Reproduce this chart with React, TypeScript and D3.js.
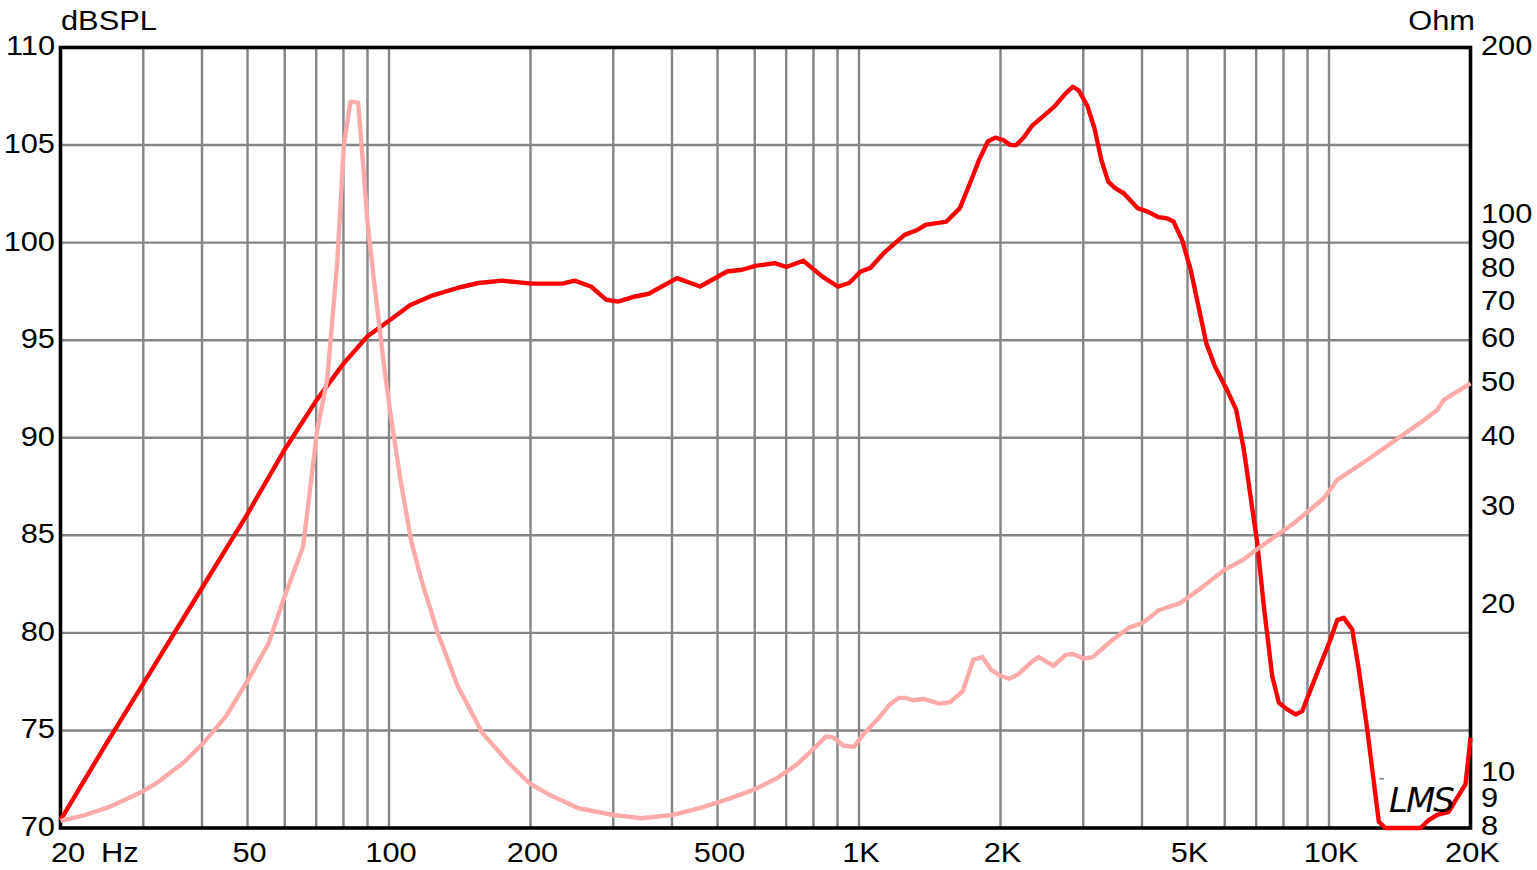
import React from "react";
import * as d3 from "d3";

// ---------- data ----------
const splFreq = [20, 25, 30, 40, 50, 60, 70, 80, 90, 100, 111, 124, 141, 155, 174, 201, 234, 248, 269, 290, 307, 334, 357, 410, 459, 524, 564, 602, 662, 700, 761, 836, 901, 953, 1008, 1056, 1128, 1250, 1322, 1385, 1535, 1639, 1734, 1801, 1880, 1950, 2028, 2096, 2158, 2243, 2332, 2460, 2610, 2746, 2854, 2936, 3062, 3169, 3278, 3390, 3507, 3658, 3913, 4114, 4328, 4514, 4667, 4868, 5078, 5480, 5716, 6112, 6344, 6589, 6808, 7036, 7266, 7572, 7821, 8149, 8488, 8770, 9438, 10072, 10410, 10750, 11204, 11572, 12060, 12764, 13188, 15654, 16306, 16987, 17978, 18736, 19518, 20000];
const splDb = [70.4, 74.3, 77.4, 82.3, 86.1, 89.4, 91.9, 93.8, 95.2, 96.0, 96.8, 97.3, 97.7, 97.93, 98.05, 97.9, 97.9, 98.05, 97.75, 97.07, 96.98, 97.24, 97.38, 98.18, 97.75, 98.52, 98.61, 98.81, 98.95, 98.75, 99.07, 98.26, 97.75, 97.93, 98.52, 98.69, 99.46, 100.4, 100.62, 100.91, 101.08, 101.77, 103.22, 104.24, 105.18, 105.38, 105.26, 105.01, 104.99, 105.4, 105.98, 106.46, 107.0, 107.62, 107.99, 107.79, 107.0, 105.86, 104.24, 103.13, 102.79, 102.53, 101.77, 101.59, 101.31, 101.25, 101.08, 100.14, 98.61, 94.85, 93.66, 92.29, 91.44, 89.39, 87.0, 84.61, 81.37, 77.78, 76.42, 76.08, 75.82, 75.99, 77.96, 79.66, 80.65, 80.77, 80.17, 78.13, 75.05, 70.32, 70.0, 70.0, 70.41, 70.67, 70.83, 71.56, 72.24, 74.63];

const impFreq = [20, 22.56, 25.43, 29.83, 32.31, 36.41, 40.26, 44.92, 50.13, 55.43, 59.41, 65.64, 67.63, 70.34, 73.86, 77.58, 80.13, 82.79, 85.98, 88.37, 89.87, 93.58, 97.46, 100.7, 105.8, 111.4, 117.1, 126.9, 140.2, 158.1, 180, 198.9, 219.8, 252.9, 300.6, 344.4, 400, 458.1, 528.4, 597.6, 669.4, 737, 804.5, 851, 885.9, 925.4, 975.2, 1027.5, 1102, 1161, 1213, 1256, 1301, 1371, 1483, 1563, 1662, 1751, 1829, 1910, 1996, 2085, 2178, 2336, 2411, 2594, 2758, 2855, 3009, 3143, 3433, 3744, 4016, 4343, 4824, 5309, 6002, 6553, 7149, 8416, 9748, 10410, 12060, 14195, 15654, 16987, 17546, 20000];
const impOhm = [8.24, 8.44, 8.73, 9.29, 9.68, 10.45, 11.35, 12.66, 14.73, 17.13, 20.34, 25.52, 31.37, 41.3, 50.8, 82.2, 132.9, 160, 159.3, 119.1, 98.2, 72.6, 54.4, 44.2, 33.6, 26.2, 22.3, 17.9, 14.33, 11.83, 10.45, 9.62, 9.17, 8.68, 8.44, 8.33, 8.44, 8.68, 9.02, 9.37, 9.83, 10.39, 11.13, 11.68, 11.6, 11.24, 11.18, 11.84, 12.59, 13.3, 13.68, 13.68, 13.55, 13.62, 13.36, 13.44, 14.06, 16.02, 16.19, 15.37, 14.99, 14.81, 15.06, 15.91, 16.19, 15.62, 16.35, 16.4, 16.08, 16.19, 17.28, 18.26, 18.64, 19.64, 20.23, 21.44, 23.22, 24.16, 25.52, 28.11, 31.16, 33.61, 36.49, 40.2, 42.57, 44.86, 46.75, 50.07];

const freqGrid = [30, 40, 50, 60, 70, 80, 90, 100, 200, 300, 400, 500, 600, 700, 800, 900, 1000, 2000, 3000, 4000, 5000, 6000, 7000, 8000, 9000, 10000];
const freqTicks = [20, 50, 100, 200, 500, 1000, 2000, 5000, 10000, 20000];
const freqTickLabels = ["20", "50", "100", "200", "500", "1K", "2K", "5K", "10K", "20K"];
const dbTicks = [70, 75, 80, 85, 90, 95, 100, 105, 110];
const ohmTicks = [8, 9, 10, 20, 30, 40, 50, 60, 70, 80, 90, 100, 200];

// ---------- layout ----------
const W = 1537;
const H = 870;
const L = 60.5;
const R = 1470.5;
const T = 47.5;
const B = 828;
const FONT = "'Liberation Sans', Arial, Helvetica, sans-serif";
const SX = 1.1;

function Label(props: { x: number; y: number; anchor?: string; central?: boolean; size?: number; children: React.ReactNode }) {
  const { x, y, anchor = "start", central = false, size = 28, children } = props;
  return (
    <text
      transform={`translate(${x},${y}) scale(${SX},1)`}
      textAnchor={anchor}
      dominantBaseline={central ? "central" : "auto"}
      fontSize={size}
    >
      {children}
    </text>
  );
}

export default function App() {
  const x = d3.scaleLog().domain([20, 20000]).range([L, R]);
  const yDb = d3.scaleLinear().domain([70, 110]).range([B, T]);
  const yOhm = d3.scaleLog().domain([8, 200]).range([B, T]);

  const splLine = d3
    .line<number>()
    .x((_, i) => x(splFreq[i]))
    .y((d) => yDb(Math.max(70, d)))
    .curve(d3.curveLinear);
  const impLine = d3
    .line<number>()
    .x((_, i) => x(impFreq[i]))
    .y((d) => yOhm(d))
    .curve(d3.curveLinear);

  return (
    <svg
      width={W}
      height={H}
      viewBox={`0 0 ${W} ${H}`}
      style={{ position: "absolute", left: 0, top: 0, background: "#fff" }}
    >
      <rect x={0} y={0} width={W} height={H} fill="#fff" />
      {/* grid */}
      <g stroke="#858585" strokeWidth={2.4}>
        {freqGrid.map((f) => (
          <line key={"v" + f} x1={x(f)} x2={x(f)} y1={T} y2={B} />
        ))}
        {dbTicks.slice(1, -1).map((d) => (
          <line key={"h" + d} x1={L} x2={R} y1={yDb(d)} y2={yDb(d)} />
        ))}
      </g>
      {/* frame */}
      <rect x={L} y={T} width={R - L} height={B - T} fill="none" stroke="#000" strokeWidth={3.6} />

      {/* curves */}
      <path d={splLine(splDb) || ""} fill="none" stroke="#ff0000" strokeWidth={4.4} strokeLinejoin="round" />
      <path d={impLine(impOhm) || ""} fill="none" stroke="#ffaaaa" strokeWidth={4.4} strokeLinejoin="round" />

      {/* axis labels */}
      <g fontFamily={FONT} fill="#000">
        {dbTicks.map((d) => (
          <Label key={"l" + d} x={55} y={yDb(d) - 2} anchor="end" central>
            {d}
          </Label>
        ))}
        {ohmTicks.map((o) => (
          <Label key={"r" + o} x={1481} y={yOhm(o) - 2.5} anchor="start" central>
            {o}
          </Label>
        ))}
        {freqTicks.map((f, i) => (
          <Label key={"b" + f} x={i === 0 ? 51 : x(f) + 2} y={862} anchor={i === 0 ? "start" : "middle"}>
            {freqTickLabels[i]}
          </Label>
        ))}
        <Label x={101} y={862}>Hz</Label>
        <Label x={61} y={30}>dBSPL</Label>
        <Label x={1475} y={30} anchor="end">Ohm</Label>
      </g>

      {/* LMS logo */}
      <g fontFamily="'DejaVu Sans', sans-serif" fill="#000">
        <text x={1378} y={783} fontSize={7}>™</text>
        <text x={1389} y={812} fontSize={34} fontStyle="italic" fontWeight={300} letterSpacing={-2}>LMS</text>
      </g>
    </svg>
  );
}
